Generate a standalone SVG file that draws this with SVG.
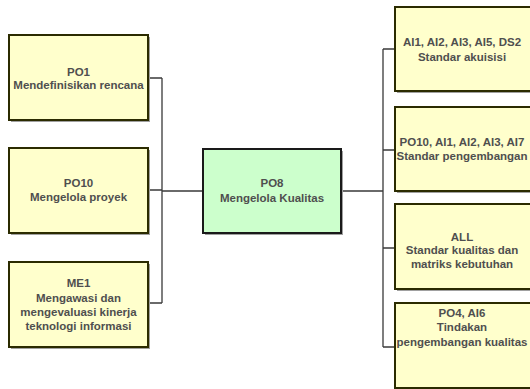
<svg xmlns="http://www.w3.org/2000/svg" width="530" height="389" viewBox="0 0 530 389">
<style>
.box{fill:#ffffcc;stroke:#2b2b00;stroke-width:2}
.ctr{fill:#ccffcc;stroke:#1a1a1a;stroke-width:2}
.sh{fill:#a0a0a0}
.t{font-family:"Liberation Sans",Arial,sans-serif;font-size:11.5px;font-weight:bold;fill:#4f4f4f;text-anchor:middle}
.c{fill:none;stroke:#3a3a3a;stroke-width:1.3}
</style>
<rect width="530" height="389" fill="#ffffff"/>
<g id="connectors">
<path class="c" d="M148 78H162M148 190H162M148 303H162M162 78V303M162 191H203"/>
<path class="c" d="M341 191H383M383 49V347M383 49H395M383 150H395M383 248H395M383 347H395"/>
</g>
<g id="po1">
<rect class="sh" x="11" y="37" width="139" height="85"/>
<rect class="box" x="9" y="35" width="139" height="85"/>
<text class="t" x="78.5" y="76">PO1</text>
<text class="t" x="78.5" y="89">Mendefinisikan rencana</text>
</g>
<g id="po10">
<rect class="sh" x="11" y="150" width="139" height="85"/>
<rect class="box" x="9" y="148" width="139" height="85"/>
<text class="t" x="78.5" y="187">PO10</text>
<text class="t" x="78.5" y="201">Mengelola proyek</text>
</g>
<g id="me1">
<rect class="sh" x="11" y="264" width="139" height="85"/>
<rect class="box" x="9" y="262" width="139" height="85"/>
<text class="t" x="78.5" y="287">ME1</text>
<text class="t" x="78.5" y="301.5">Mengawasi dan</text>
<text class="t" x="78.5" y="315.5">mengevaluasi kinerja</text>
<text class="t" x="78.5" y="329.5">teknologi informasi</text>
</g>
<g id="po8">
<rect class="sh" x="205" y="151" width="138" height="84"/>
<rect class="ctr" x="203" y="149" width="138" height="84"/>
<text class="t" x="272" y="187">PO8</text>
<text class="t" x="272" y="202">Mengelola Kualitas</text>
</g>
<g id="r1">
<rect class="sh" x="397" y="9" width="140" height="84"/>
<rect class="box" x="395" y="7" width="140" height="84"/>
<text class="t" x="462" y="46">AI1, AI2, AI3, AI5, DS2</text>
<text class="t" x="462" y="60.5">Standar akuisisi</text>
</g>
<g id="r2">
<rect class="sh" x="397" y="109" width="140" height="84"/>
<rect class="box" x="395" y="107" width="140" height="84"/>
<text class="t" x="462" y="146">PO10, AI1, AI2, AI3, AI7</text>
<text class="t" x="462" y="160">Standar pengembangan</text>
</g>
<g id="r3">
<rect class="sh" x="397" y="206" width="140" height="85"/>
<rect class="box" x="395" y="204" width="140" height="85"/>
<text class="t" x="462" y="240.5">ALL</text>
<text class="t" x="462" y="254">Standar kualitas dan</text>
<text class="t" x="462" y="267.5">matriks kebutuhan</text>
</g>
<g id="r4">
<rect class="sh" x="397" y="305" width="140" height="85"/>
<rect class="box" x="395" y="303" width="140" height="85"/>
<text class="t" x="462" y="317">PO4, AI6</text>
<text class="t" x="462" y="331">Tindakan</text>
<text class="t" x="462" y="345.5">pengembangan kualitas</text>
</g>
</svg>
